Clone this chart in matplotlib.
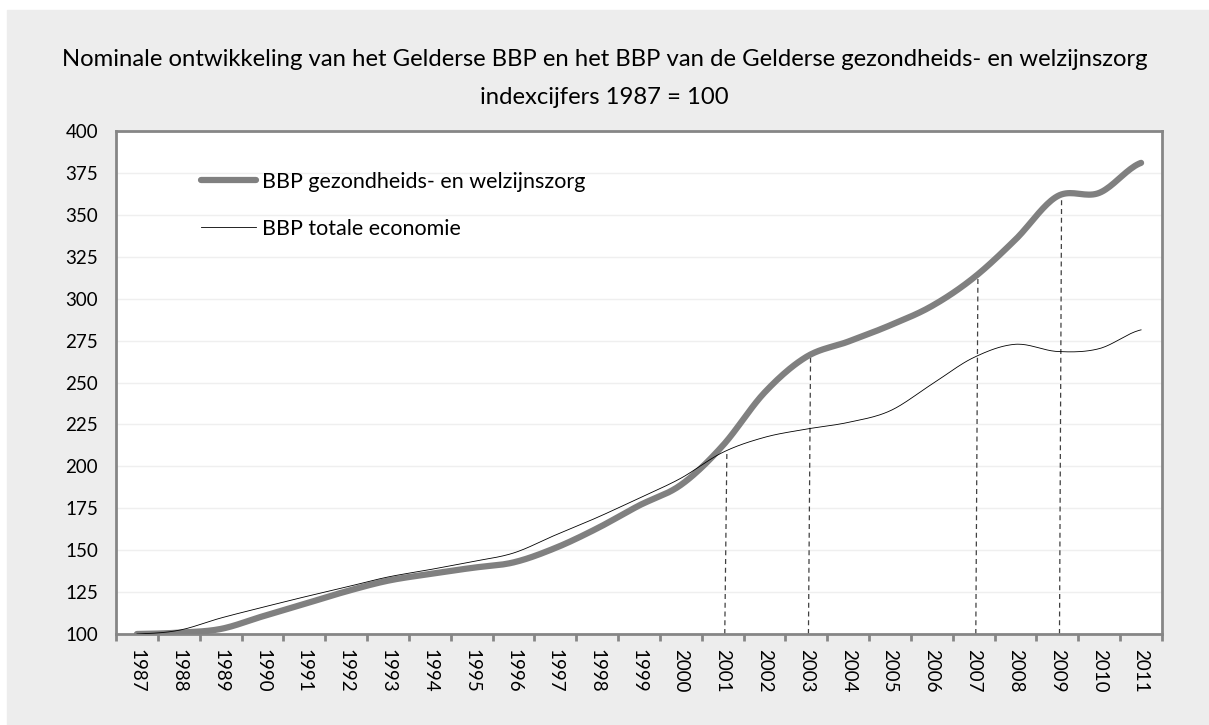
import matplotlib
matplotlib.use("Agg")
import matplotlib.pyplot as plt
import numpy as np

years = [str(y) for y in range(1987, 2012)]
zorg = [100, 100.8, 103, 110.5, 117.9, 125.4, 131.8, 135.8, 139.4, 142.7, 151.3, 163,
        176.6, 188.9, 212.3, 244, 265.3, 274.4, 284.1, 295.6, 312.5, 335.3, 361.1, 363.1, 381]
totaal = [100, 102.2, 109.5, 115.9, 122.1, 128, 134, 138.4, 143.1, 148.3, 159, 169.5,
          181, 192.9, 208.3, 217.3, 222.2, 226.2, 233.1, 249, 264.9, 272.8, 268.5, 270.2, 281.4]
markers = {"2001": "totaal", "2003": "zorg", "2007": "zorg", "2009": "zorg"}


def smooth(y, n=20):
    # Catmull-Rom, like Excel's smoothed line
    y = np.asarray(y, float)
    p = np.concatenate([[y[0]], y, [y[-1]]])
    xs, ys = [], []
    for i in range(len(y) - 1):
        p0, p1, p2, p3 = p[i], p[i + 1], p[i + 2], p[i + 3]
        t = np.linspace(0, 1, n, endpoint=False)
        yy = 0.5 * ((2 * p1) + (-p0 + p2) * t + (2 * p0 - 5 * p1 + 4 * p2 - p3) * t**2
                    + (-p0 + 3 * p1 - 3 * p2 + p3) * t**3)
        xs.append(i + t)
        ys.append(yy)
    xs.append([len(y) - 1])
    ys.append([y[-1]])
    return np.concatenate(xs), np.concatenate(ys)


plt.rcParams["font.family"] = ["Lato", "DejaVu Sans"]
fig = plt.figure(figsize=(12.09, 7.25), dpi=100)
fig.patch.set_facecolor("white")
fig.add_artist(plt.Rectangle((7 / 1209, 0), 1 - 7 / 1209, 1 - 10 / 725,
                             transform=fig.transFigure, color="#EDEDED", zorder=-10))

ax = fig.add_axes([116 / 1209, 1 - 634 / 725, (1162 - 116) / 1209, (634 - 131) / 725])
ax.set_facecolor("white")

x = np.arange(len(years))
sx, sy = smooth(zorg)
ax.plot(sx, sy, color="#808080", lw=4.5, solid_capstyle="round",
        label="BBP gezondheids- en welzijnszorg", zorder=3)
tx, ty = smooth(totaal)
ax.plot(tx, ty, color="black", lw=0.6, label="BBP totale economie", zorder=4)

for yr, which in markers.items():
    i = years.index(yr)
    top = (totaal if which == "totaal" else zorg)[i]
    ax.plot([i + 0.05, i + 0.1], [100, top], color="#404040", lw=0.9,
            ls=(0, (4, 3)), zorder=2)

ax.set_xlim(-0.5, len(years) - 0.5)
ax.set_ylim(100, 400)
ax.set_yticks(range(100, 401, 25))
ax.set_xticks(x)
ax.set_xticklabels(years, rotation=-90, fontsize=13.5)
ax.set_xticks(np.arange(-0.5, len(years), 1), minor=True)
ax.tick_params(axis="x", which="major", length=0, pad=11)
ax.tick_params(axis="x", which="minor", length=5, width=2, color="#868686")
ax.tick_params(axis="y", length=0, labelsize=13.5, pad=13)
ax.grid(axis="y", color="#EFEFEF", lw=1)
ax.set_axisbelow(True)
for s in ax.spines.values():
    s.set_color("#868686")
    s.set_linewidth(2)

leg = ax.legend(loc="upper left", bbox_to_anchor=(0.063, 0.957), frameon=False,
                fontsize=15.5, handlelength=2.55, handletextpad=0.25, labelspacing=1.25)

fig.text(0.5, 1 - 60 / 725,
         "Nominale ontwikkeling van het Gelderse BBP en het BBP van de Gelderse gezondheids- en welzijnszorg",
         ha="center", va="center", fontsize=17.2)
fig.text(0.5, 1 - 97 / 725, "indexcijfers 1987 = 100", ha="center", va="center", fontsize=17.2)

fig.savefig("out.png", dpi=100, facecolor=fig.get_facecolor())
